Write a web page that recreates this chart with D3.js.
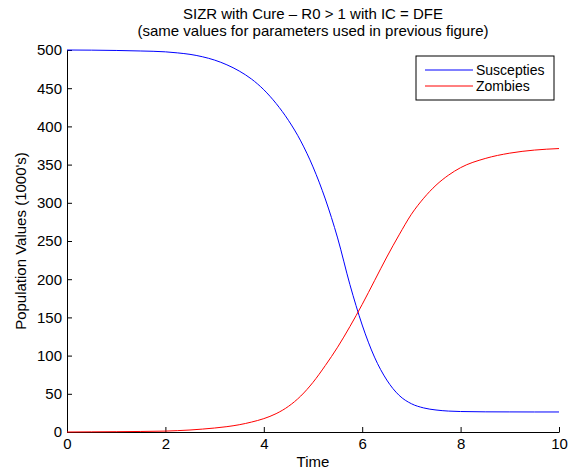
<!DOCTYPE html>
<html lang="en">
<head>
  <meta charset="UTF-8" />
  <title>SIZR with Cure</title>
  <script src="https://d3js.org/d3.v7.min.js"></script>
  <style>
    body { margin: 0; background: #fff; }
    svg { display: block; }
    text { font-family: "Liberation Sans", Arial, sans-serif; fill: #000; }
  </style>
</head>
<body>
  <div id="chart"></div>
  <script>
    const time = [0, 0.5, 1, 1.5, 2, 2.25, 2.5, 2.75, 3, 3.25, 3.5, 3.75, 4, 4.25, 4.5, 4.75, 5, 5.25, 5.5, 5.75, 6, 6.25, 6.5, 6.75, 7, 7.25, 7.5, 7.75, 8, 8.5, 9, 9.5, 10];
    const suscepties = [500, 499.8, 499.4, 498.7, 497.6, 496.2, 494.3, 491.2, 486.8, 480.6, 472.5, 462, 448, 430, 408, 381, 347, 305, 254, 193, 140, 98, 68, 48, 37, 31.5, 28.8, 27.4, 26.8, 26.4, 26.3, 26.2, 26.2];
    const zombies = [0, 0.2, 0.4, 0.7, 1.2, 1.8, 2.6, 3.8, 5.2, 7, 9.5, 13, 17.5, 24, 33.5, 47, 65, 87, 111, 138, 167, 198, 229, 258, 285, 306, 323, 336, 346, 358, 365, 369, 371];
    const xTicks = [0, 2, 4, 6, 8, 10];
    const yTicks = [0, 50, 100, 150, 200, 250, 300, 350, 400, 450, 500];
    const seriesNames = ["Suscepties", "Zombies"];
    const seriesColors = ["#0000ff", "#ff0000"];

    const width = 569, height = 471;
    const margin = { top: 50, right: 10, bottom: 39, left: 67 };
    const fs = 15;

    const svg = d3.select("#chart").append("svg")
      .attr("width", width)
      .attr("height", height);

    const x = d3.scaleLinear().domain([0, 10]).range([margin.left, width - margin.right]);
    const y = d3.scaleLinear().domain([0, 500]).range([height - margin.bottom, margin.top]);

    // axes, ticks pointing inward like MATLAB
    svg.append("g")
      .attr("transform", `translate(0,${y(0)})`)
      .call(d3.axisBottom(x).tickValues(xTicks).tickSize(-5).tickPadding(6).tickSizeOuter(0))
      .call(g => g.selectAll("text").attr("font-size", fs).attr("dy", "0.71em"));

    svg.append("g")
      .attr("transform", `translate(${x(0)},0)`)
      .call(d3.axisLeft(y).tickValues(yTicks).tickSize(-5).tickPadding(5).tickSizeOuter(0))
      .call(g => g.selectAll("text").attr("font-size", fs));

    svg.selectAll(".domain").attr("stroke", "#000");
    svg.selectAll(".tick line").attr("stroke", "#000");

    const series = [suscepties, zombies];
    const line = d3.line()
      .x((d, i) => x(time[i]))
      .y(d => y(d))
      .curve(d3.curveMonotoneX);

    svg.selectAll(".series")
      .data(series)
      .join("path")
      .attr("class", "series")
      .attr("fill", "none")
      .attr("stroke", (d, i) => seriesColors[i])
      .attr("stroke-width", 1)
      .attr("d", line);

    // titles
    const cx = (x(0) + x(10)) / 2;
    svg.append("text").attr("x", cx).attr("y", 19).attr("text-anchor", "middle")
      .attr("font-size", fs).text("SIZR with Cure \u2013 R0 > 1 with IC = DFE");
    svg.append("text").attr("x", cx).attr("y", 36).attr("text-anchor", "middle")
      .attr("font-size", fs).text("(same values for parameters used in previous figure)");

    svg.append("text").attr("x", cx).attr("y", 467).attr("text-anchor", "middle")
      .attr("font-size", fs).text("Time");

    svg.append("text")
      .attr("transform", `translate(26,${(y(0) + y(500)) / 2}) rotate(-90)`)
      .attr("text-anchor", "middle")
      .attr("font-size", fs)
      .text("Population Values (1000's)");

    // legend
    const legend = svg.append("g").attr("transform", "translate(416,56)");
    legend.append("rect").attr("width", 138).attr("height", 44)
      .attr("fill", "#fff").attr("stroke", "#000").attr("stroke-width", 1);
    seriesNames.forEach((name, i) => {
      const ly = 14 + i * 16;
      legend.append("line").attr("x1", 9).attr("x2", 57).attr("y1", ly).attr("y2", ly)
        .attr("stroke", seriesColors[i]).attr("stroke-width", 1);
      legend.append("text").attr("x", 60).attr("y", ly).attr("dy", "0.35em")
        .attr("font-size", 14).text(name);
    });
  </script>
</body>
</html>
